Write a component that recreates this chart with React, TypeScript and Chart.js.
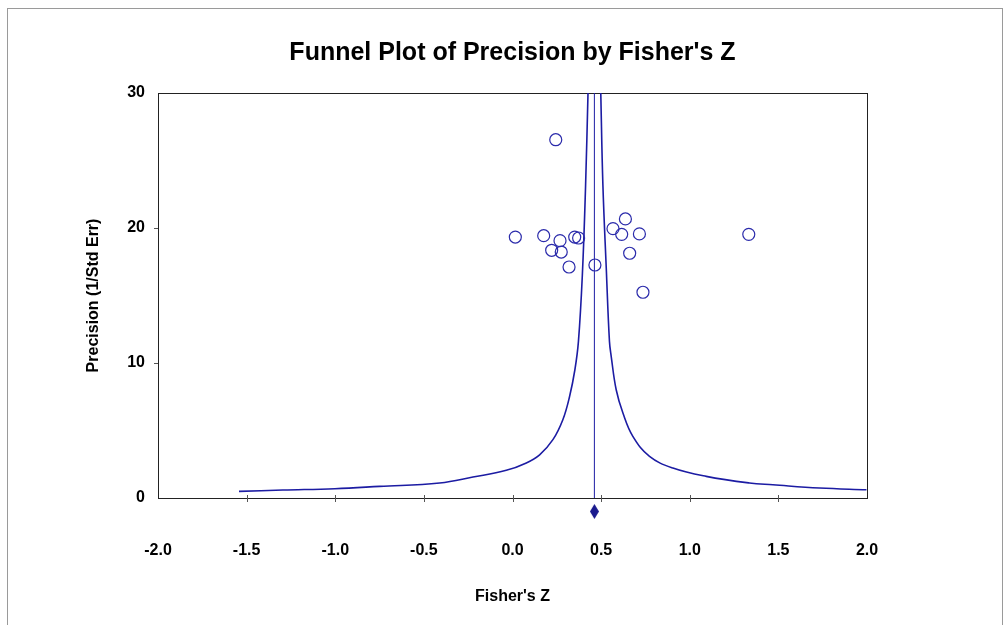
import React, { useEffect, useRef } from "react";
import { Chart, registerables } from "chart.js";

Chart.register(...registerables);

const TITLE = "Funnel Plot of Precision by Fisher's Z";
const X_TITLE = "Fisher's Z";
const Y_TITLE = "Precision (1/Std Err)";

const X_MIN = -2;
const X_MAX = 2;
const X_STEP = 0.5;
const Y_MIN = 0;
const Y_MAX = 30;
const Y_STEP = 10;

// Individual studies (Fisher's Z, precision)
const studyZ = [0.244, 0.016, 0.176, 0.268, 0.221, 0.275, 0.351, 0.373, 0.319, 0.465, 0.567, 0.637, 0.616, 0.716, 0.661, 0.736, 1.333];
const studyPrecision = [26.54, 19.33, 19.43, 19.06, 18.35, 18.22, 19.33, 19.26, 17.11, 17.26, 19.95, 20.67, 19.53, 19.56, 18.13, 15.24, 19.53];

// Funnel boundaries
const funnelLeftZ = [-1.543, -1.295, -1.002, -0.75, -0.411, -0.223, -0.035, 0.078, 0.153, 0.228, 0.284, 0.322, 0.352, 0.372, 0.394, 0.412, 0.426];
const funnelLeftPrecision = [0.49, 0.59, 0.69, 0.86, 1.11, 1.55, 2.05, 2.6, 3.2, 4.32, 5.8, 7.52, 9.5, 11.6, 16.5, 23.0, 30];
const funnelRightZ = [0.498, 0.51, 0.529, 0.547, 0.557, 0.585, 0.623, 0.679, 0.773, 0.905, 1.093, 1.337, 1.469, 1.732, 1.997];
const funnelRightPrecision = [30, 23.19, 17.02, 11.6, 10.48, 8.02, 6.29, 4.56, 3.08, 2.22, 1.6, 1.11, 0.98, 0.74, 0.61];

// Combined estimate
const summaryZ = 0.462;
const summaryMarkerPrecision = -1.0;
const summaryLinePrecision = [0, 30];

const FONT = "'Liberation Sans', Arial, Helvetica, sans-serif";
const BLUE = "#1c1ca3";
const CIRCLE = "#2b2bab";

function makeDiamond(): HTMLCanvasElement {
  const c = document.createElement("canvas");
  c.width = 9;
  c.height = 15;
  const g = c.getContext("2d")!;
  g.fillStyle = "#1a1a8e";
  g.beginPath();
  g.moveTo(4.5, 0);
  g.lineTo(9, 7.5);
  g.lineTo(4.5, 15);
  g.lineTo(0, 7.5);
  g.closePath();
  g.fill();
  return c;
}

const framePlugin = {
  id: "frameAndTicks",
  beforeDatasetsDraw(chart: any) {
    const { ctx, chartArea } = chart;
    const { left, top, right, bottom } = chartArea;
    ctx.save();
    ctx.strokeStyle = "#222";
    ctx.lineWidth = 1;
    ctx.strokeRect(Math.round(left) + 0.5, Math.round(top) + 0.5, Math.round(right - left), Math.round(bottom - top));
    ctx.strokeStyle = "#555";
    const xs = chart.scales.x;
    xs.ticks.forEach((t: any) => {
      if (t.value <= X_MIN || t.value >= X_MAX) return;
      const px = Math.round(xs.getPixelForValue(t.value)) + 0.5;
      ctx.beginPath();
      ctx.moveTo(px, bottom - 3);
      ctx.lineTo(px, bottom + 4);
      ctx.stroke();
    });
    const ys = chart.scales.y;
    ys.ticks.forEach((t: any) => {
      if (t.value <= Y_MIN || t.value >= Y_MAX) return;
      const py = Math.round(ys.getPixelForValue(t.value)) + 0.5;
      ctx.beginPath();
      ctx.moveTo(left - 4, py);
      ctx.lineTo(left, py);
      ctx.stroke();
    });
    ctx.restore();
  },
};

export default function App() {
  const ref = useRef<HTMLCanvasElement | null>(null);

  useEffect(() => {
    if (!ref.current) return;
    const diamond = makeDiamond();
    const chart = new Chart(ref.current, {
      type: "scatter",
      data: {
        datasets: [
          {
            label: "Studies",
            data: studyZ.map((x, i) => ({ x, y: studyPrecision[i] })),
            pointStyle: "circle",
            pointRadius: 6,
            pointBorderWidth: 1.2,
            pointBorderColor: CIRCLE,
            pointBackgroundColor: "rgba(0,0,0,0)",
            showLine: false,
          },
          {
            label: "Lower limit",
            data: funnelLeftZ.map((x, i) => ({ x, y: funnelLeftPrecision[i] })),
            showLine: true,
            pointRadius: 0,
            borderColor: BLUE,
            borderWidth: 1.6,
            tension: 0.4,
          },
          {
            label: "Upper limit",
            data: funnelRightZ.map((x, i) => ({ x, y: funnelRightPrecision[i] })),
            showLine: true,
            pointRadius: 0,
            borderColor: BLUE,
            borderWidth: 1.6,
            tension: 0.4,
          },
          {
            label: "Combined",
            data: summaryLinePrecision.map((y) => ({ x: summaryZ, y })),
            showLine: true,
            pointRadius: 0,
            borderColor: BLUE,
            borderWidth: 1,
          },
          {
            label: "Summary",
            data: [{ x: summaryZ, y: summaryMarkerPrecision }],
            pointStyle: diamond as any,
            pointRadius: 24,
            showLine: false,
            clip: false as any,
          },
        ],
      },
      options: {
        animation: false,
        responsive: false,
        events: [],
        layout: { padding: { left: 0, right: 141, top: 0, bottom: 0 } },
        plugins: {
          legend: { display: false },
          tooltip: { enabled: false },
          title: {
            display: true,
            text: TITLE,
            fullSize: false,
            color: "#000",
            font: { family: FONT, size: 25, weight: "bold", lineHeight: 1.2 },
            padding: { top: 38, bottom: 25 },
          },
        },
        scales: {
          x: {
            type: "linear",
            min: X_MIN,
            max: X_MAX,
            grid: { display: false, drawTicks: false },
            border: { display: false },
            ticks: {
              stepSize: X_STEP,
              padding: 43,
              color: "#000",
              maxRotation: 0,
              autoSkip: false,
              font: { family: FONT, size: 16, weight: "bold" },
              callback: (v: any) => Number(v).toFixed(1),
            },
            title: {
              display: true,
              text: X_TITLE,
              color: "#000",
              font: { family: FONT, size: 16, weight: "bold" },
              padding: { top: 0, bottom: 19 },
            },
            afterFit: (s: any) => {
              s.height = 127;
            },
          },
          y: {
            type: "linear",
            min: Y_MIN,
            max: Y_MAX,
            grid: { display: false, drawTicks: false },
            border: { display: false },
            ticks: {
              stepSize: Y_STEP,
              padding: 13,
              color: "#000",
              font: { family: FONT, size: 16, weight: "bold" },
            },
            title: {
              display: true,
              text: Y_TITLE,
              color: "#000",
              font: { family: FONT, size: 16, weight: "bold" },
              padding: { top: 84, bottom: 0 },
            },
            afterFit: (s: any) => {
              s.width = 158;
            },
          },
        },
      },
      plugins: [framePlugin],
    });
    return () => chart.destroy();
  }, []);

  return (
    <div style={{ position: "absolute", left: 0, top: 0, width: 1008, height: 625, background: "#fff", overflow: "hidden" }}>
      <div
        style={{
          position: "absolute",
          left: 7,
          top: 8,
          width: 994,
          height: 640,
          borderTop: "1px solid #9a9a9a",
          borderLeft: "1px solid #9a9a9a",
          borderRight: "1px solid #9a9a9a",
        }}
      />
      <canvas ref={ref} width={1008} height={625} style={{ position: "absolute", left: 0, top: 0, width: 1008, height: 625 }} />
    </div>
  );
}
